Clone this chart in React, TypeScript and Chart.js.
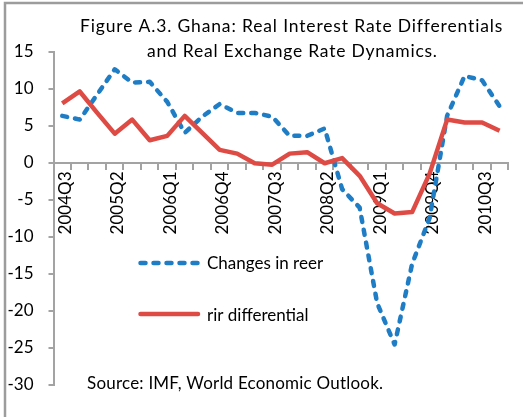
import React, { useEffect, useRef } from "react";
import { Chart, registerables } from "chart.js";

Chart.register(...registerables);

const quarters: string[] = [
  "2004Q3", "2004Q4", "2005Q1", "2005Q2", "2005Q3", "2005Q4",
  "2006Q1", "2006Q2", "2006Q3", "2006Q4", "2007Q1", "2007Q2",
  "2007Q3", "2007Q4", "2008Q1", "2008Q2", "2008Q3", "2008Q4",
  "2009Q1", "2009Q2", "2009Q3", "2009Q4", "2010Q1", "2010Q2",
  "2010Q3", "2010Q4",
];

const changesInReer: number[] = [
  6.3, 5.8, 9.2, 12.6, 10.8, 10.9, 8.2, 4.0, 6.2, 7.9, 6.7, 6.7,
  6.2, 3.6, 3.6, 4.6, -3.6, -6.1, -19.0, -24.6, -13.7, -7.5, 6.3, 11.7,
  11.1, 7.6,
];

const rirDifferential: number[] = [
  8.0, 9.6, 6.7, 3.9, 5.8, 3.0, 3.6, 6.3, 4.0, 1.7, 1.2, -0.1,
  -0.3, 1.2, 1.4, -0.1, 0.6, -1.8, -5.5, -6.9, -6.7, -1.5, 5.8, 5.4,
  5.4, 4.3,
];

const titleLines: string[] = [
  "Figure A.3. Ghana: Real Interest Rate Differentials",
  "and Real Exchange Rate Dynamics.",
];
const legendLabels: string[] = ["Changes in reer", "rir differential"];
const sourceText = "Source: IMF, World Economic Outlook.";

const FONT = 'Lato, "Open Sans", sans-serif';
const BLUE = "#1F7DC6";
const RED = "#DE4B45";
const AXIS = "#A3A3A3";

// draw text spread to a target width (left edge x)
function fitText(ctx: CanvasRenderingContext2D, text: string, x: number, y: number, width: number) {
  (ctx as any).letterSpacing = "0px";
  const w = ctx.measureText(text).width;
  const sp = Math.max(0, (width - w) / Math.max(1, text.length - 1));
  (ctx as any).letterSpacing = `${sp}px`;
  ctx.textAlign = "left";
  ctx.fillText(text, x, y);
  (ctx as any).letterSpacing = "0px";
}

const decorPlugin = {
  id: "decor",
  afterDraw(chart: any) {
    const ctx = chart.ctx as CanvasRenderingContext2D;
    ctx.save();
    // frame
    ctx.strokeStyle = "#9C9C9C";
    ctx.lineWidth = 2.5;
    ctx.strokeRect(5, 3, 800, 800);
    // title
    ctx.fillStyle = "#000";
    ctx.font = `17.5px ${FONT}`;
    ctx.textBaseline = "alphabetic";
    fitText(ctx, titleLines[0], 80, 31.7, 422);
    fitText(ctx, titleLines[1], 147, 57.3, 290);
    ctx.font = `17px ${FONT}`;
    // legend
    ctx.lineWidth = 4.5;
    ctx.strokeStyle = BLUE;
    ctx.lineCap = "round";
    ctx.setLineDash([5, 8]);
    ctx.beginPath();
    ctx.moveTo(140.5, 263);
    ctx.lineTo(199, 263);
    ctx.stroke();
    ctx.setLineDash([]);
    ctx.strokeStyle = RED;
    ctx.beginPath();
    ctx.moveTo(140.5, 314);
    ctx.lineTo(198, 314);
    ctx.stroke();
    ctx.textAlign = "left";
    ctx.fillStyle = "#000";
    ctx.fillText(legendLabels[0], 207, 268.5);
    ctx.fillText(legendLabels[1], 207, 320.5);
    // source
    fitText(ctx, sourceText, 87, 389, 296);
    ctx.restore();
  },
};

export default function App() {
  const ref = useRef<HTMLCanvasElement | null>(null);
  useEffect(() => {
    if (!ref.current) return;
    const chart = new Chart(ref.current, {
      type: "line",
      data: {
        labels: quarters,
        datasets: [
          {
            label: legendLabels[0],
            data: changesInReer,
            borderColor: BLUE,
            backgroundColor: BLUE,
            borderWidth: 4.5,
            borderDash: [5, 8],
            borderCapStyle: "round",
            borderJoinStyle: "round",
            pointRadius: 0,
            tension: 0,
            order: 2,
          },
          {
            label: legendLabels[1],
            data: rirDifferential,
            borderColor: RED,
            backgroundColor: RED,
            borderWidth: 4.5,
            borderCapStyle: "butt",
            borderJoinStyle: "round",
            pointRadius: 0,
            tension: 0,
            order: 1,
          },
        ],
      },
      options: {
        animation: false,
        responsive: false,
        devicePixelRatio: 1,
        layout: { padding: { top: 51.5, bottom: 32.5, left: 0, right: 0 } },
        plugins: {
          legend: { display: false },
          title: { display: false },
          tooltip: { enabled: false },
        },
        scales: {
          x: {
            type: "category",
            position: { y: 0 } as any,
            offset: true,
            afterFit: (s: any) => {
              s.height = 0;
            },
            grid: {
              display: true,
              drawOnChartArea: false,
              drawTicks: true,
              tickLength: 6,
              offset: true,
              color: AXIS,
              lineWidth: 2,
            },
            border: { display: true, color: AXIS, width: 2 },
            ticks: {
              autoSkip: false,
              maxRotation: 90,
              minRotation: 90,
              padding: 3,
              labelOffset: 3,
              color: "#000",
              font: { family: FONT, size: 17 },
              callback: (_v: any, i: number) => (i % 3 === 0 ? quarters[i] : ""),
            },
          },
          y: {
            min: -30,
            max: 15,
            afterFit: (s: any) => {
              s.width = 53.5;
            },
            grid: {
              display: true,
              drawOnChartArea: false,
              drawTicks: true,
              tickLength: 5,
              color: AXIS,
              lineWidth: 2,
            },
            border: { display: true, color: AXIS, width: 2 },
            ticks: {
              stepSize: 5,
              padding: 15,
              color: "#000",
              font: { family: FONT, size: 17 },
            },
          },
        },
      },
      plugins: [decorPlugin],
    });
    return () => chart.destroy();
  }, []);
  return (
    <div style={{ position: "absolute", left: 0, top: 0, width: 523, height: 417, background: "#fff" }}>
      <canvas ref={ref} width={523} height={417} style={{ display: "block", width: 523, height: 417 }} />
    </div>
  );
}
